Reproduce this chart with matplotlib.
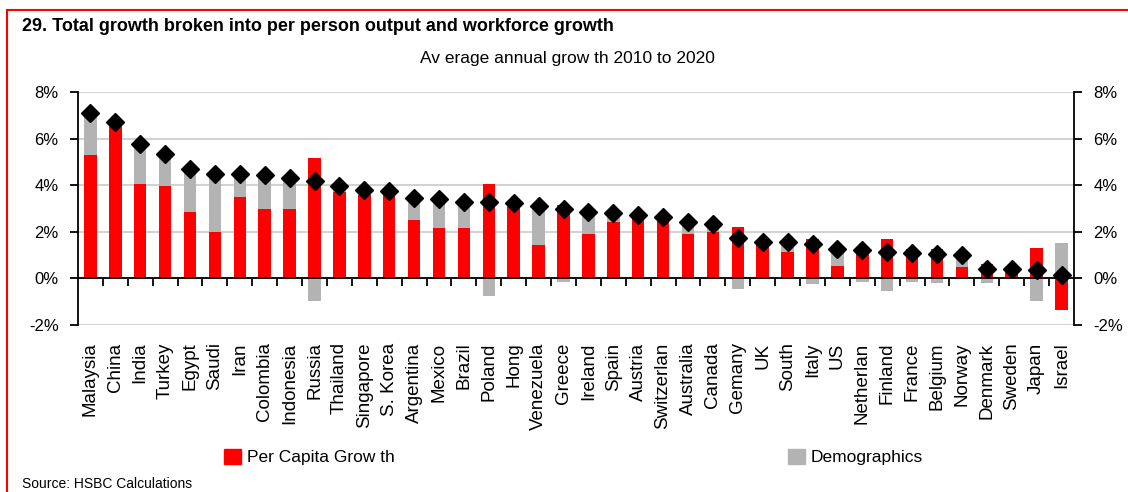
import numpy as np
import matplotlib
matplotlib.use('Agg')
import matplotlib.pyplot as plt
from matplotlib.patches import Patch
from matplotlib.lines import Line2D
from matplotlib.ticker import FixedLocator, FuncFormatter

plt.rcParams['font.family'] = ['Liberation Sans Narrow', 'Liberation Sans', 'DejaVu Sans']

countries = ['Malaysia', 'China', 'India', 'Turkey', 'Egypt', 'Saudi', 'Iran', 'Colombia',
             'Indonesia', 'Russia', 'Thailand', 'Singapore', 'S. Korea', 'Argentina', 'Mexico',
             'Brazil', 'Poland', 'Hong', 'Venezuela', 'Greece', 'Ireland', 'Spain', 'Austria',
             'Switzerlan', 'Australia', 'Canada', 'Gemany', 'UK', 'South', 'Italy', 'US',
             'Netherlan', 'Finland', 'France', 'Belgium', 'Norway', 'Denmark', 'Sweden',
             'Japan', 'Israel']
per_capita = [5.3, 6.55, 4.05, 3.95, 2.85, 2.0, 3.5, 3.0,
              3.0, 5.15, 3.7, 3.6, 3.72, 2.5, 2.15,
              2.15, 4.05, 3.05, 1.45, 3.15, 1.9, 2.4, 2.65,
              2.6, 1.9, 2.0, 2.2, 1.45, 1.15, 1.68, 0.55,
              1.35, 1.7, 1.25, 1.25, 0.5, 0.6, 0.35,
              1.3, -1.35]
demographics = [1.8, 0.15, 1.7, 1.4, 1.85, 2.5, 1.0, 1.45,
                1.3, -0.95, 0.25, 0.2, 0.02, 0.95, 1.25,
                1.15, -0.75, 0.2, 1.65, -0.15, 0.95, 0.4, 0.05,
                0.05, 0.5, 0.35, -0.45, 0.1, 0.4, -0.22, 0.7,
                -0.15, -0.55, -0.15, -0.2, 0.5, -0.18, 0.05,
                -0.95, 1.5]
yticks = [-2, 0, 2, 4, 6, 8]

pc = np.array(per_capita)
dm = np.array(demographics)
total = pc + dm
# stack on top of the red bar only when both parts point the same way
dm_bottom = np.where(np.sign(pc) == np.sign(dm), pc, 0)
x = np.arange(len(countries))

fig = plt.figure(figsize=(11.28, 4.92), dpi=100)
ax = fig.add_axes([0.0691, 0.3394, 0.883, 0.4736])

ax.bar(x, pc, width=0.5, color='#ff0000', zorder=2)
ax.bar(x, dm, bottom=dm_bottom, width=0.5, color='#b3b3b3', zorder=2)
ax.plot(x, total, linestyle='none', marker='D', markersize=9, color='black', zorder=3)

ax.set_xlim(-0.5, len(countries) - 0.5)
ax.set_ylim(-2, 8)
ax.set_yticks(yticks)
ax.yaxis.set_major_formatter(FuncFormatter(lambda v, p: f'{v:.0f}%'))
ax.grid(axis='y', color='#d2d2d2', linewidth=1.5, zorder=0)
ax.set_axisbelow(True)

ax.spines['top'].set_visible(False)
ax.spines['bottom'].set_position(('data', 0))
for s in ['left', 'right', 'bottom']:
    ax.spines[s].set_color('black')
    ax.spines[s].set_linewidth(1.3)

ax.tick_params(axis='y', which='major', direction='out', length=6, width=1.3,
               left=True, right=True, labelleft=True, labelright=True,
               labelsize=12, pad=8)
ax.xaxis.set_major_locator(FixedLocator([]))
ax.xaxis.set_minor_locator(FixedLocator(x[:-1] + 0.5))
ax.tick_params(axis='x', which='minor', direction='out', length=6, width=1.3)

for xi, name in zip(x, countries):
    ax.text(xi, -0.075, name, transform=ax.get_xaxis_transform(), rotation=90,
            ha='center', va='top', fontsize=13.5)

fig.text(22 / 1128, 1 - 18 / 492, '29. Total growth broken into per person output and workforce growth',
         fontsize=13, fontweight='bold', va='top', ha='left')
fig.text(567 / 1128, 1 - 51 / 492, 'Av erage annual grow th 2010 to 2020',
         fontsize=12.5, va='top', ha='center')
fig.text(22 / 1128, 1 - 477 / 492, 'Source: HSBC Calculations', fontsize=10, va='top', ha='left')

fig.legend(handles=[Patch(color='#ff0000', label='Per Capita Grow th')],
           loc='center left', bbox_to_anchor=(224 / 1128, 1 - 457 / 492),
           frameon=False, fontsize=12.5, handlelength=1.0, handleheight=1.0,
           handletextpad=0.3, borderpad=0, borderaxespad=0)
fig.legend(handles=[Patch(color='#b3b3b3', label='Demographics')],
           loc='center left', bbox_to_anchor=(788 / 1128, 1 - 457 / 492),
           frameon=False, fontsize=12.5, handlelength=1.0, handleheight=1.0,
           handletextpad=0.3, borderpad=0, borderaxespad=0)

# red frame running off the right and bottom edges
fig.add_artist(Line2D([7 / 1128, 7 / 1128], [0, 1 - 10 / 492], color='#ff0000', linewidth=1.5))
fig.add_artist(Line2D([7 / 1128, 1], [1 - 10 / 492, 1 - 10 / 492], color='#ff0000', linewidth=1.5))

fig.savefig('out.png', dpi=100)
